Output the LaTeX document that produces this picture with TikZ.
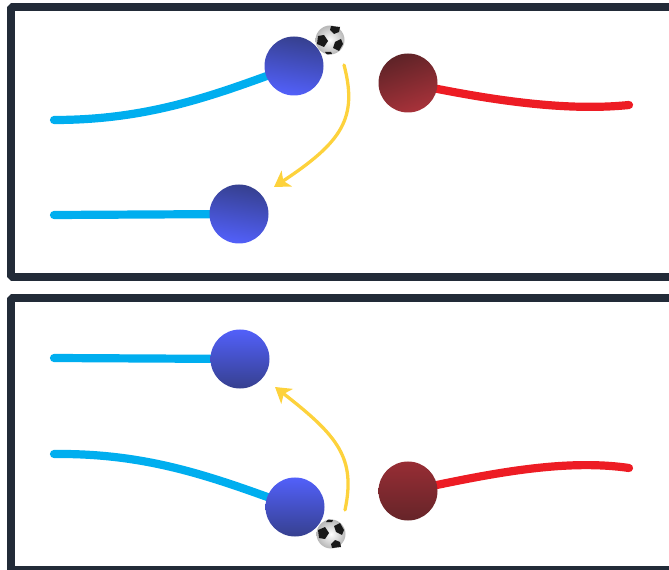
\documentclass[tikz,border=0pt]{standalone}
\usetikzlibrary{arrows.meta}
\pgfdeclarelayer{strings}
\pgfsetlayers{strings,main}
\definecolor{framecol}{HTML}{222B38}
\definecolor{bluestr}{HTML}{00AEEF}
\definecolor{redstr}{HTML}{ED1C24}
\definecolor{passcol}{HTML}{FDD23C}
\definecolor{bluedark}{HTML}{36408F}
\definecolor{bluelight}{HTML}{5260FA}
\definecolor{reddark}{HTML}{5E2327}
\definecolor{redlight}{HTML}{A8323A}
\tikzset{
  panel/.style={line width=6.8pt,color=framecol,rounded corners=1.5pt},
  bluestring/.style={line width=7pt,color=bluestr,line cap=round},
  redstring/.style={line width=7pt,color=redstr,line cap=round},
  pass/.style={line width=2.8pt,color=passcol,line cap=round,-{Stealth[length=13pt,width=16pt,inset=3.5pt]}},
  player/.style={circle,minimum size=1.77cm,inner sep=0pt},
  bluedown/.style={player,top color=bluedark,bottom color=bluelight,shading angle=-10},
  blueup/.style={player,top color=bluelight,bottom color=bluedark},
  reddown/.style={player,top color=reddark,bottom color=redlight,shading angle=20},
  redup/.style={player,top color=redlight!90!black,middle color=redlight,bottom color=reddark!90!redlight},
  soccer/.pic={
    \shade[inner color=white,outer color=black!28] (0,0) circle (14.5);
    \fill[black!90] (1,-14) -- (10,-13) -- (9,-8) -- (4,-6) -- (0,-10) -- cycle;
    \fill[black!90] (-12,-4) -- (-6,-5) -- (-2,1) -- (-6,7) -- (-13,4) -- cycle;
    \fill[black!90] (5,2) -- (11,-1) -- (13,4) -- (9,11) -- (3,8) -- cycle;
    \fill[black!90] (-5,12) -- (1,12) -- (2,14) -- (-3,14.5) -- cycle;
  }
}
\begin{document}
\begin{tikzpicture}[x=0.03cm,y=-0.03cm]
        \useasboundingbox (0,0) rectangle (669,570);
        % panels
        \begin{scope}
        \clip (0,0) rectangle (669,570);
        \draw[panel] (680,7) -- (11,7) -- (11,277) -- (680,277);
        \draw[panel] (680,298) -- (11,298) -- (11,570) -- (680,570);
        \end{scope}

        % top panel
        \node[bluedown] (blueA) at (294,66) {};
        \node[bluedown] (blueB) at (239,214) {};
        \node[reddown] (redA) at (408,83) {};
        \coordinate (blueAend) at (54,120);
        \coordinate (blueBend) at (54,215);
        \coordinate (redAend) at (629,105);
        \coordinate (passAstart) at (344,65);
        \coordinate (passAend) at (274,187);
        \pic at (330,40) {soccer};
        \begin{pgfonlayer}{strings}
        \draw[bluestring] (blueAend) .. controls (150,120) and (215,95) .. (blueA.center);
        \draw[bluestring] (blueBend) -- (blueB.center);
        \draw[redstring] (redA.center) .. controls (480,98) and (560,112) .. (redAend);
        \end{pgfonlayer}
        \draw[pass] (passAstart) .. controls (358,118) and (342,142) .. (passAend);

        % bottom panel
        \node[blueup] (blueC) at (240,359) {};
        \node[blueup] (blueD) at (295,507) {};
        \node[redup] (redB) at (408,491) {};
        \coordinate (blueCend) at (54,358);
        \coordinate (blueDend) at (54,454);
        \coordinate (redBend) at (629,468);
        \coordinate (passBstart) at (345,510);
        \coordinate (passBend) at (275,387);
        \pic[yscale=-1] at (331,534) {soccer};
        \begin{pgfonlayer}{strings}
        \draw[bluestring] (blueCend) -- (blueC.center);
        \draw[bluestring] (blueDend) .. controls (150,453) and (215,478) .. (blueD.center);
        \draw[redstring] (redB.center) .. controls (480,476) and (560,458) .. (redBend);
        \end{pgfonlayer}
        \draw[pass] (passBstart) .. controls (356,458) and (338,436) .. (passBend);
\end{tikzpicture}
\end{document}
